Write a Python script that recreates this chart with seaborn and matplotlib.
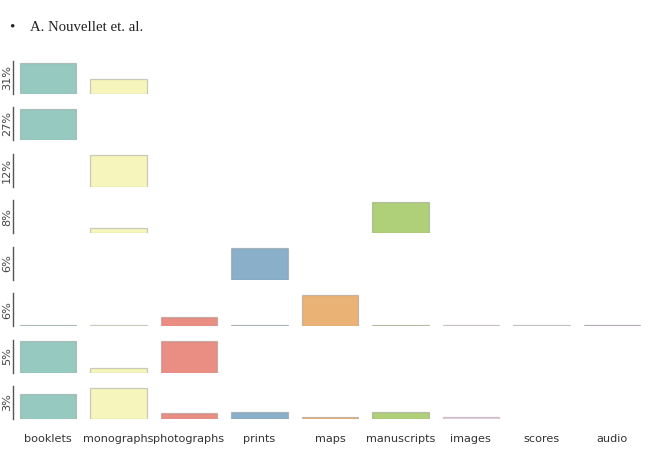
import numpy as np
import pandas as pd
import matplotlib.pyplot as plt
import seaborn as sns

sns.set_style("white")
plt.rcParams['font.family'] = ['DejaVu Sans']

categorias = ['booklets', 'monographs', 'photographs', 'prints', 'maps',
              'manuscripts', 'images', 'scores', 'audio']
rotulos_linhas = ['31%', '27%', '12%', '8%', '6%', '6%', '5%', '3%']

# composição relativa de cada grupo (proporção do maior valor da linha)
linha_1 = [1.00, 0.48, 0, 0, 0, 0, 0, 0, 0]
linha_2 = [1.00, 0, 0, 0, 0, 0, 0, 0, 0]
linha_3 = [0, 1.00, 0, 0, 0, 0, 0, 0, 0]
linha_4 = [0, 0.16, 0, 0, 0, 1.00, 0, 0, 0]
linha_5 = [0, 0, 0, 1.00, 0, 0, 0, 0, 0]
linha_6 = [0.03, 0.03, 0.30, 0.03, 1.00, 0.03, 0.03, 0.03, 0.03]
linha_7 = [1.00, 0.16, 1.00, 0, 0, 0, 0, 0, 0]
linha_8 = [0.81, 1.00, 0.20, 0.23, 0.06, 0.23, 0.06, 0, 0]
linhas = [linha_1, linha_2, linha_3, linha_4, linha_5, linha_6, linha_7, linha_8]

cores = ['#8dd3c7', '#ffffb3', '#fb8072', '#80b1d3', '#fdb462',
         '#b3de69', '#fccde5', '#d9d9d9', '#bc80bd']
paleta = dict(zip(categorias, cores))

fig, axes = plt.subplots(len(linhas), 1, figsize=(6.61, 4.57), dpi=100)
fig.subplots_adjust(left=0.0193, right=0.979, top=0.8665, bottom=0.0832, hspace=0.41)

for i, (ax, valores, rotulo) in enumerate(zip(axes, linhas, rotulos_linhas)):
    # zeros viram NaN para não desenhar a borda das barras vazias
    df = pd.DataFrame({'categoria': categorias, 'valor': valores})
    df['valor'] = df['valor'].replace(0, np.nan)
    sns.barplot(data=df, x='categoria', y='valor', hue='categoria', palette=paleta,
                order=categorias, hue_order=categorias, legend=False, ax=ax,
                edgecolor=(0.5, 0.5, 0.5, 0.4), linewidth=0.9)
    ax.set_xlim(-0.5, len(categorias) - 0.5)
    ax.set_ylim(0, 1.05)
    ax.set_ylabel(rotulo, fontsize=8.1, color='#444444', labelpad=0.5)
    ax.set_xlabel('')
    ax.set_yticks([])
    for lado in ['top', 'right', 'bottom']:
        ax.spines[lado].set_visible(False)
    ax.spines['left'].set_color('#555555')
    ax.spines['left'].set_linewidth(1.0)
    if i < len(linhas) - 1:
        ax.set_xticks([])
    else:
        ax.tick_params(axis='x', length=0, pad=11, labelsize=8.1, labelcolor='#333333')

fig.text(0.014, 0.94, '•', fontsize=11, family='Liberation Serif', va='center')
fig.text(0.045, 0.94, 'A. Nouvellet et. al.', fontsize=10.6, family='Liberation Serif',
         va='center', color='#222222')

plt.savefig('out.png', dpi=100)
